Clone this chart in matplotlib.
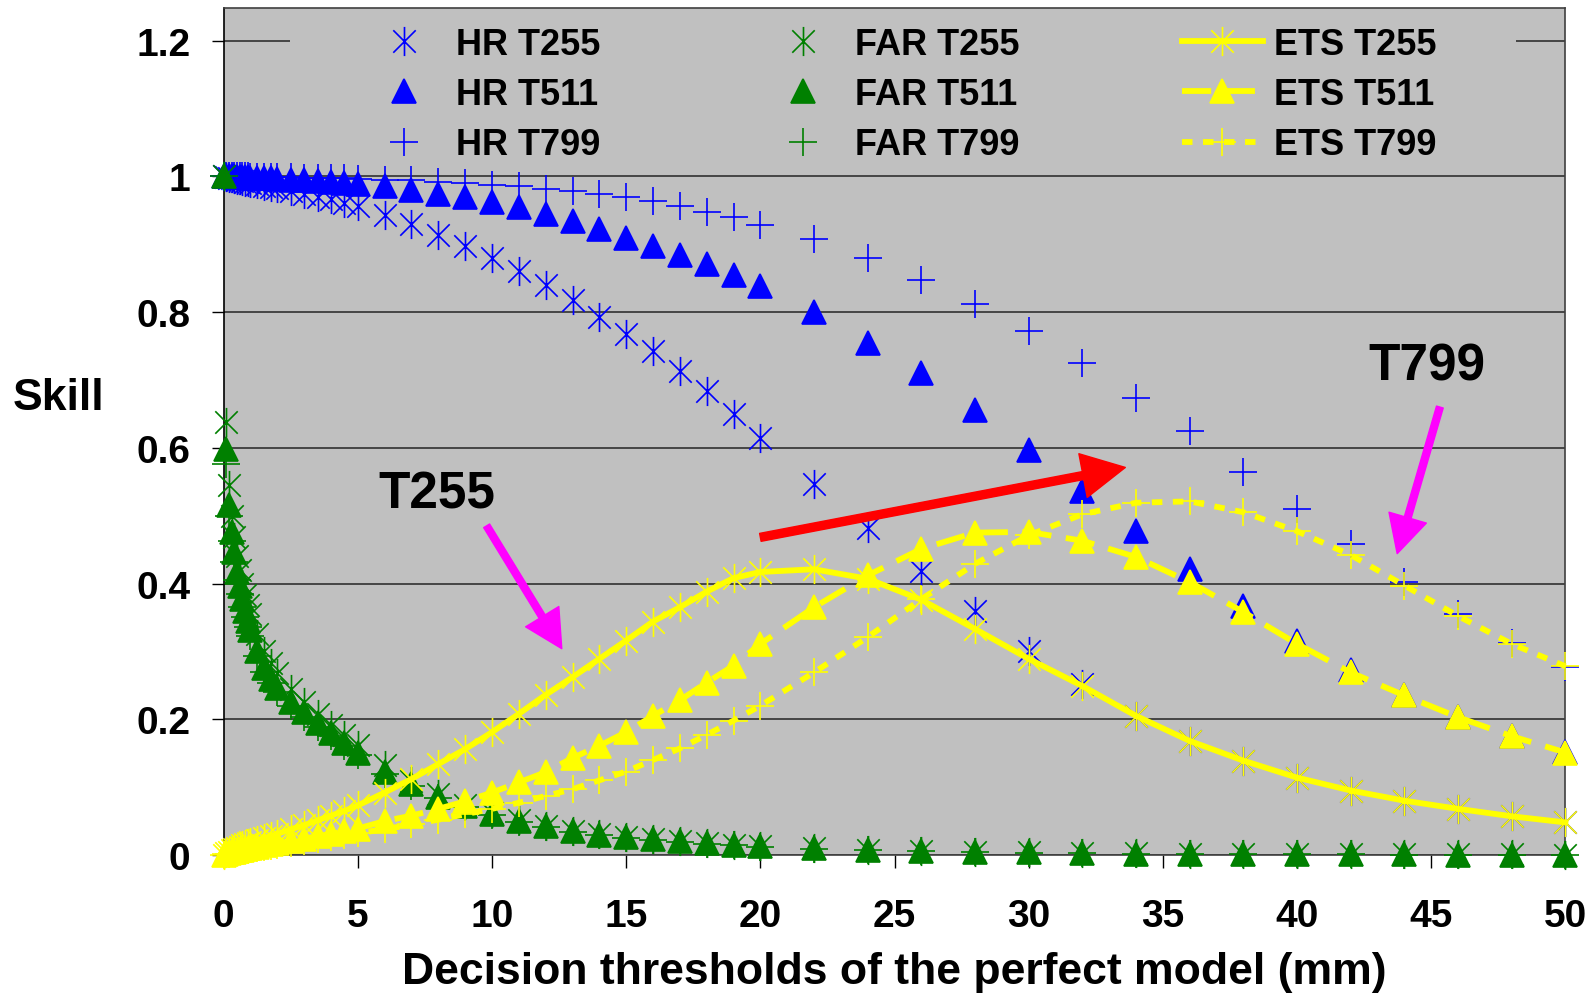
import numpy as np
import matplotlib
matplotlib.use('Agg')
import matplotlib.pyplot as plt
from matplotlib.path import Path
from matplotlib.patches import Rectangle

# decision thresholds (mm)
thresholds = [0, 0.1, 0.2, 0.3, 0.4, 0.5, 0.6, 0.7, 0.8, 0.9, 1.0,
              1.25, 1.5, 1.75, 2.0, 2.5, 3.0, 3.5, 4.0, 4.5, 5,
              6, 7, 8, 9, 10, 11, 12, 13, 14, 15, 16, 17, 18, 19, 20,
              22, 24, 26, 28, 30, 32, 34, 36, 38, 40, 42, 44, 46, 48, 50]

hr_t255 = [1.0, 0.999, 0.998, 0.997, 0.996, 0.995, 0.994, 0.993, 0.992, 0.991, 0.990,
           0.988, 0.986, 0.984, 0.982, 0.978, 0.974, 0.970, 0.966, 0.961, 0.956,
           0.943, 0.929, 0.914, 0.897, 0.879, 0.860, 0.840, 0.818, 0.793, 0.767,
           0.742, 0.713, 0.683, 0.650, 0.614,
           0.547, 0.482, 0.419, 0.359, 0.300, 0.252, 0.205, 0.168, 0.139, 0.114,
           0.095, 0.080, 0.068, 0.057, 0.048]
hr_t511 = [1.0, 1.0, 1.0, 1.0, 1.0, 0.999, 0.999, 0.999, 0.999, 0.999, 0.998,
           0.998, 0.997, 0.997, 0.996, 0.995, 0.994, 0.993, 0.992, 0.990, 0.988,
           0.985, 0.980, 0.974, 0.969, 0.962, 0.954, 0.944, 0.934, 0.923, 0.909,
           0.897, 0.884, 0.871, 0.854, 0.839,
           0.800, 0.755, 0.710, 0.655, 0.597, 0.537, 0.478, 0.421, 0.367, 0.315,
           0.272, 0.236, 0.204, 0.176, 0.152]
hr_t799 = [1.0, 1.0, 1.0, 1.0, 1.0, 1.0, 1.0, 1.0, 1.0, 1.0, 0.999,
           0.999, 0.999, 0.999, 0.999, 0.999, 0.998, 0.998, 0.997, 0.997, 0.996,
           0.995, 0.994, 0.992, 0.990, 0.987, 0.985, 0.981, 0.978, 0.974, 0.969,
           0.963, 0.956, 0.948, 0.940, 0.928,
           0.907, 0.879, 0.847, 0.812, 0.772, 0.725, 0.673, 0.624, 0.565, 0.510,
           0.458, 0.402, 0.355, 0.313, 0.277]

far_t255 = [1.0, 0.638, 0.545, 0.500, 0.468, 0.440, 0.420, 0.400, 0.383, 0.368, 0.355,
            0.325, 0.300, 0.283, 0.268, 0.245, 0.226, 0.208, 0.192, 0.177, 0.162,
            0.133, 0.109, 0.090, 0.074, 0.062, 0.051, 0.043, 0.036, 0.031, 0.027,
            0.023, 0.020, 0.017, 0.015, 0.013,
            0.010, 0.008, 0.006, 0.005, 0.004, 0.003, 0.003, 0.002, 0.002, 0.001,
            0.001, 0.001, 0.001, 0.001, 0.0]
far_t511 = [1.0, 0.598, 0.515, 0.476, 0.446, 0.417, 0.397, 0.377, 0.360, 0.345, 0.332,
            0.300, 0.276, 0.260, 0.246, 0.226, 0.210, 0.194, 0.180, 0.165, 0.150,
            0.122, 0.104, 0.086, 0.072, 0.061, 0.050, 0.042, 0.035, 0.030, 0.026,
            0.023, 0.020, 0.017, 0.015, 0.013,
            0.010, 0.008, 0.006, 0.005, 0.004, 0.003, 0.002, 0.002, 0.001, 0.001,
            0.001, 0.001, 0.0, 0.0, 0.0]
far_t799 = [1.0, 0.576, 0.500, 0.462, 0.432, 0.405, 0.385, 0.366, 0.350, 0.336, 0.323,
            0.293, 0.270, 0.254, 0.240, 0.220, 0.204, 0.189, 0.175, 0.161, 0.147,
            0.120, 0.101, 0.084, 0.070, 0.059, 0.049, 0.041, 0.034, 0.029, 0.025,
            0.022, 0.019, 0.016, 0.014, 0.012,
            0.009, 0.007, 0.006, 0.004, 0.003, 0.003, 0.002, 0.002, 0.001, 0.001,
            0.001, 0.0, 0.0, 0.0, 0.0]

ets_t255 = [0.0, 0.003, 0.005, 0.007, 0.009, 0.011, 0.012, 0.014, 0.016, 0.017, 0.019,
            0.022, 0.025, 0.028, 0.031, 0.038, 0.044, 0.051, 0.058, 0.065, 0.073,
            0.092, 0.112, 0.134, 0.156, 0.181, 0.208, 0.236, 0.262, 0.289, 0.316,
            0.344, 0.365, 0.388, 0.408, 0.417,
            0.421, 0.407, 0.376, 0.333, 0.289, 0.249, 0.205, 0.168, 0.139, 0.114,
            0.095, 0.080, 0.068, 0.057, 0.048]
ets_t511 = [0.0, 0.002, 0.003, 0.004, 0.005, 0.006, 0.007, 0.008, 0.009, 0.010, 0.011,
            0.012, 0.014, 0.016, 0.017, 0.021, 0.024, 0.028, 0.031, 0.035, 0.039,
            0.050, 0.058, 0.068, 0.079, 0.092, 0.107, 0.122, 0.143, 0.161, 0.181,
            0.205, 0.228, 0.254, 0.279, 0.311,
            0.365, 0.412, 0.451, 0.475, 0.476, 0.463, 0.439, 0.402, 0.358, 0.311,
            0.269, 0.235, 0.203, 0.175, 0.151]
ets_t799 = [0.0, 0.001, 0.002, 0.003, 0.004, 0.005, 0.006, 0.006, 0.007, 0.008, 0.009,
            0.010, 0.012, 0.013, 0.014, 0.017, 0.020, 0.023, 0.026, 0.029, 0.032,
            0.038, 0.045, 0.052, 0.060, 0.068, 0.077, 0.087, 0.097, 0.110, 0.123,
            0.140, 0.157, 0.177, 0.198, 0.220,
            0.269, 0.321, 0.377, 0.429, 0.471, 0.502, 0.519, 0.521, 0.505, 0.477,
            0.442, 0.397, 0.352, 0.311, 0.278]

x_ticks = [0, 5, 10, 15, 20, 25, 30, 35, 40, 45, 50]
y_ticks = [0, 0.2, 0.4, 0.6, 0.8, 1.0, 1.2]
y_ticklabels = ['0', '0.2', '0.4', '0.6', '0.8', '1', '1.2']

BLUE = '#0000ff'
GREEN = '#008000'
YELLOW = '#ffff00'
GRAY = '#c0c0c0'

plt.rcParams['font.family'] = ['Liberation Sans', 'DejaVu Sans']
plt.rcParams['font.weight'] = 'bold'

# Excel style asterisk: X plus a vertical bar
star = Path([(-1, -1), (1, 1), (-1, 1), (1, -1), (0, -1.3), (0, 1.3)],
            [Path.MOVETO, Path.LINETO, Path.MOVETO, Path.LINETO, Path.MOVETO, Path.LINETO])

fig = plt.figure(figsize=(15.94, 9.95), dpi=100)
ax = fig.add_axes([0.1403, 0.1397, 0.8418, 0.8513])
ax.set_facecolor(GRAY)
ax.set_axisbelow(True)

x = np.array(thresholds)

def markers_only(y, marker, color, label, ms):
    filled = marker == '^'
    ax.plot(x, y, linestyle='none', marker=marker, ms=ms, mew=1.2, color=color,
            mfc=color if filled else 'none', mec=color, label=label, clip_on=False, zorder=3)

markers_only(hr_t255, star, BLUE, 'HR T255', 21)
markers_only(hr_t511, '^', BLUE, 'HR T511', 17)
markers_only(hr_t799, '+', BLUE, 'HR T799', 20)
markers_only(far_t255, star, GREEN, 'FAR T255', 21)
markers_only(far_t511, '^', GREEN, 'FAR T511', 17)
markers_only(far_t799, '+', GREEN, 'FAR T799', 20)

ax.plot(x, ets_t255, color=YELLOW, lw=4.2, marker=star, ms=21, mew=1.2, mfc='none',
        mec=YELLOW, label='ETS T255', clip_on=False, zorder=4)
ax.plot(x, ets_t511, color=YELLOW, lw=4.2, dashes=(5, 2.5), marker='^', ms=17, mew=1.2,
        mfc=YELLOW, mec=YELLOW, label='ETS T511', clip_on=False, zorder=4)
ax.plot(x, ets_t799, color=YELLOW, lw=4.2, dashes=(1.8, 1.8), marker='+', ms=20, mew=1.2,
        mec=YELLOW, label='ETS T799', clip_on=False, zorder=4)

ax.set_xlim(0, 50)
ax.set_ylim(0, 1.248)
ax.set_xticks(x_ticks)
ax.set_yticks(y_ticks)
ax.set_yticklabels(y_ticklabels)
ax.tick_params(axis='both', labelsize=28, direction='out', length=9, width=1, color='black')
ax.tick_params(axis='y', pad=15)
ax.tick_params(axis='x', pad=22)
ax.grid(axis='y', color='#303030', lw=1.2)
for sp in ax.spines.values():
    sp.set_color('#404040')
    sp.set_linewidth(1.2)
ax.spines['left'].set_color('black')

ax.set_xlabel('Decision thresholds of the perfect model (mm)', fontsize=32,
              fontweight='bold', va='center')
ax.xaxis.set_label_coords(0.5, -0.138)
ax.set_ylabel('Skill', fontsize=32, fontweight='bold', rotation=0, ha='center', va='center')
ax.yaxis.set_label_coords(-0.1234, 0.540)

# gray box of the legend hides the 1.2 gridline
ax.add_patch(Rectangle((0.0495, 0.9), 0.914, 0.1, transform=ax.transAxes,
                       facecolor=GRAY, edgecolor='none', zorder=1))
ax.legend(loc='upper left', bbox_to_anchor=(0.091, 0.999), ncol=3, frameon=False,
          fontsize=26, borderpad=0, handlelength=2.25, handletextpad=0.3,
          columnspacing=4.5, labelspacing=0.42, numpoints=1)

# annotations
ax.annotate('', xy=(33.6, 0.571), xytext=(20.0, 0.468),
            arrowprops=dict(arrowstyle='simple,head_length=3.1,head_width=3.2,tail_width=0.58',
                            color='#ff0000', mutation_scale=10, shrinkA=0, shrinkB=0), zorder=6)
ax.annotate('', xy=(12.6, 0.304), xytext=(9.8, 0.485),
            arrowprops=dict(arrowstyle='simple,head_length=2.7,head_width=2.8,tail_width=0.5',
                            color='#ff00ff', mutation_scale=10, shrinkA=0, shrinkB=0), zorder=6)
ax.annotate('', xy=(43.73, 0.444), xytext=(45.32, 0.66),
            arrowprops=dict(arrowstyle='simple,head_length=2.7,head_width=2.8,tail_width=0.5',
                            color='#ff00ff', mutation_scale=10, shrinkA=0, shrinkB=0), zorder=6)
ax.text(7.95, 0.532, 'T255', fontsize=37, fontweight='bold', ha='center', va='center', zorder=6)
ax.text(44.83, 0.72, 'T799', fontsize=37, fontweight='bold', ha='center', va='center', zorder=6)

fig.savefig('out.png', dpi=100)
